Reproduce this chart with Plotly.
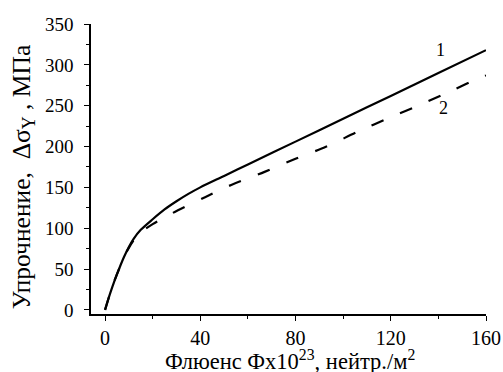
import plotly.graph_objects as go

x1 = [0, 2, 4, 6, 8, 10, 12, 15, 20, 25, 30, 35, 40, 50, 60, 80, 100, 120, 140, 160]
y1 = [0, 19, 36, 51, 65, 77, 87, 98, 111, 123, 133, 142, 150, 164, 178, 206, 234, 262, 290, 318]

x2 = [0, 2, 4, 6, 8, 10, 13, 16, 20, 28, 42, 53, 67, 80, 93, 106, 120, 133, 146, 158, 160]
y2 = [0, 19, 36, 51, 65, 76, 89, 97, 105, 118, 138, 153, 169, 185, 200, 218, 236, 252, 269, 285, 287]

x_ticks = [0, 40, 80, 120, 160]
y_ticks = [0, 50, 100, 150, 200, 250, 300, 350]

labels = ["1", "2"]
label_x = [141, 142]
label_y = [318, 247]

x_title = "Флюенс Фх10<sup>23</sup>, нейтр./м<sup>2</sup>"
y_title = "Упрочнение,  Δσ<sub>Y</sub> , МПа"

FONT = "Liberation Serif"

fig = go.Figure()
fig.add_trace(go.Scatter(x=x1, y=y1, mode="lines", line=dict(color="black", width=2.2, shape="spline", smoothing=0.8),
                         showlegend=False))
fig.add_trace(go.Scatter(x=x2, y=y2, mode="lines",
                         line=dict(color="black", width=2.2, dash="13px,18px", shape="spline", smoothing=0.8),
                         showlegend=False))
for t, lx, ly in zip(labels, label_x, label_y):
    fig.add_annotation(x=lx, y=ly, text=t, showarrow=False,
                       font=dict(family=FONT, size=18, color="black"))

fig.add_annotation(xref="paper", yref="paper", x=0.504, y=-0.157, xanchor="center", yanchor="middle",
                   text=x_title, showarrow=False, font=dict(family=FONT, size=22.5, color="black"))
fig.add_annotation(xref="paper", yref="paper", x=-0.172, y=0.472, xanchor="center", yanchor="middle",
                   text=y_title, textangle=-90, showarrow=False, font=dict(family=FONT, size=25.5, color="black"))

fig.update_layout(font=dict(family=FONT, color="black", size=19))

fig.update_xaxes(showgrid=False, zeroline=False, showline=True, linecolor="black", linewidth=1.5,
                 ticks="outside", ticklen=5, tickwidth=1.3, tickcolor="black",
                 tickfont_family=FONT, tickfont_size=20, ticklabelstandoff=0, automargin=False,
                 range=[-5.9, 160], tickvals=x_ticks,
                 minor=dict(tickvals=[20, 60, 100, 140], ticks="outside", ticklen=3, tickcolor="black", tickwidth=1.3))
fig.update_yaxes(showgrid=False, zeroline=False, showline=True, linecolor="black", linewidth=1.5,
                 ticks="outside", ticklen=5, tickwidth=1.3, tickcolor="black",
                 tickfont_family=FONT, tickfont_size=19, ticklabelstandoff=7, automargin=False,
                 range=[-5, 350], tickvals=y_ticks,
                 minor=dict(tickvals=[25, 75, 125, 175, 225, 275, 325], ticks="outside", ticklen=3, tickcolor="black", tickwidth=1.3))

fig.update_layout(width=503, height=372, margin=dict(l=91, r=17, t=24, b=58),
                  plot_bgcolor="white", paper_bgcolor="white")

fig.write_html("out.html")
